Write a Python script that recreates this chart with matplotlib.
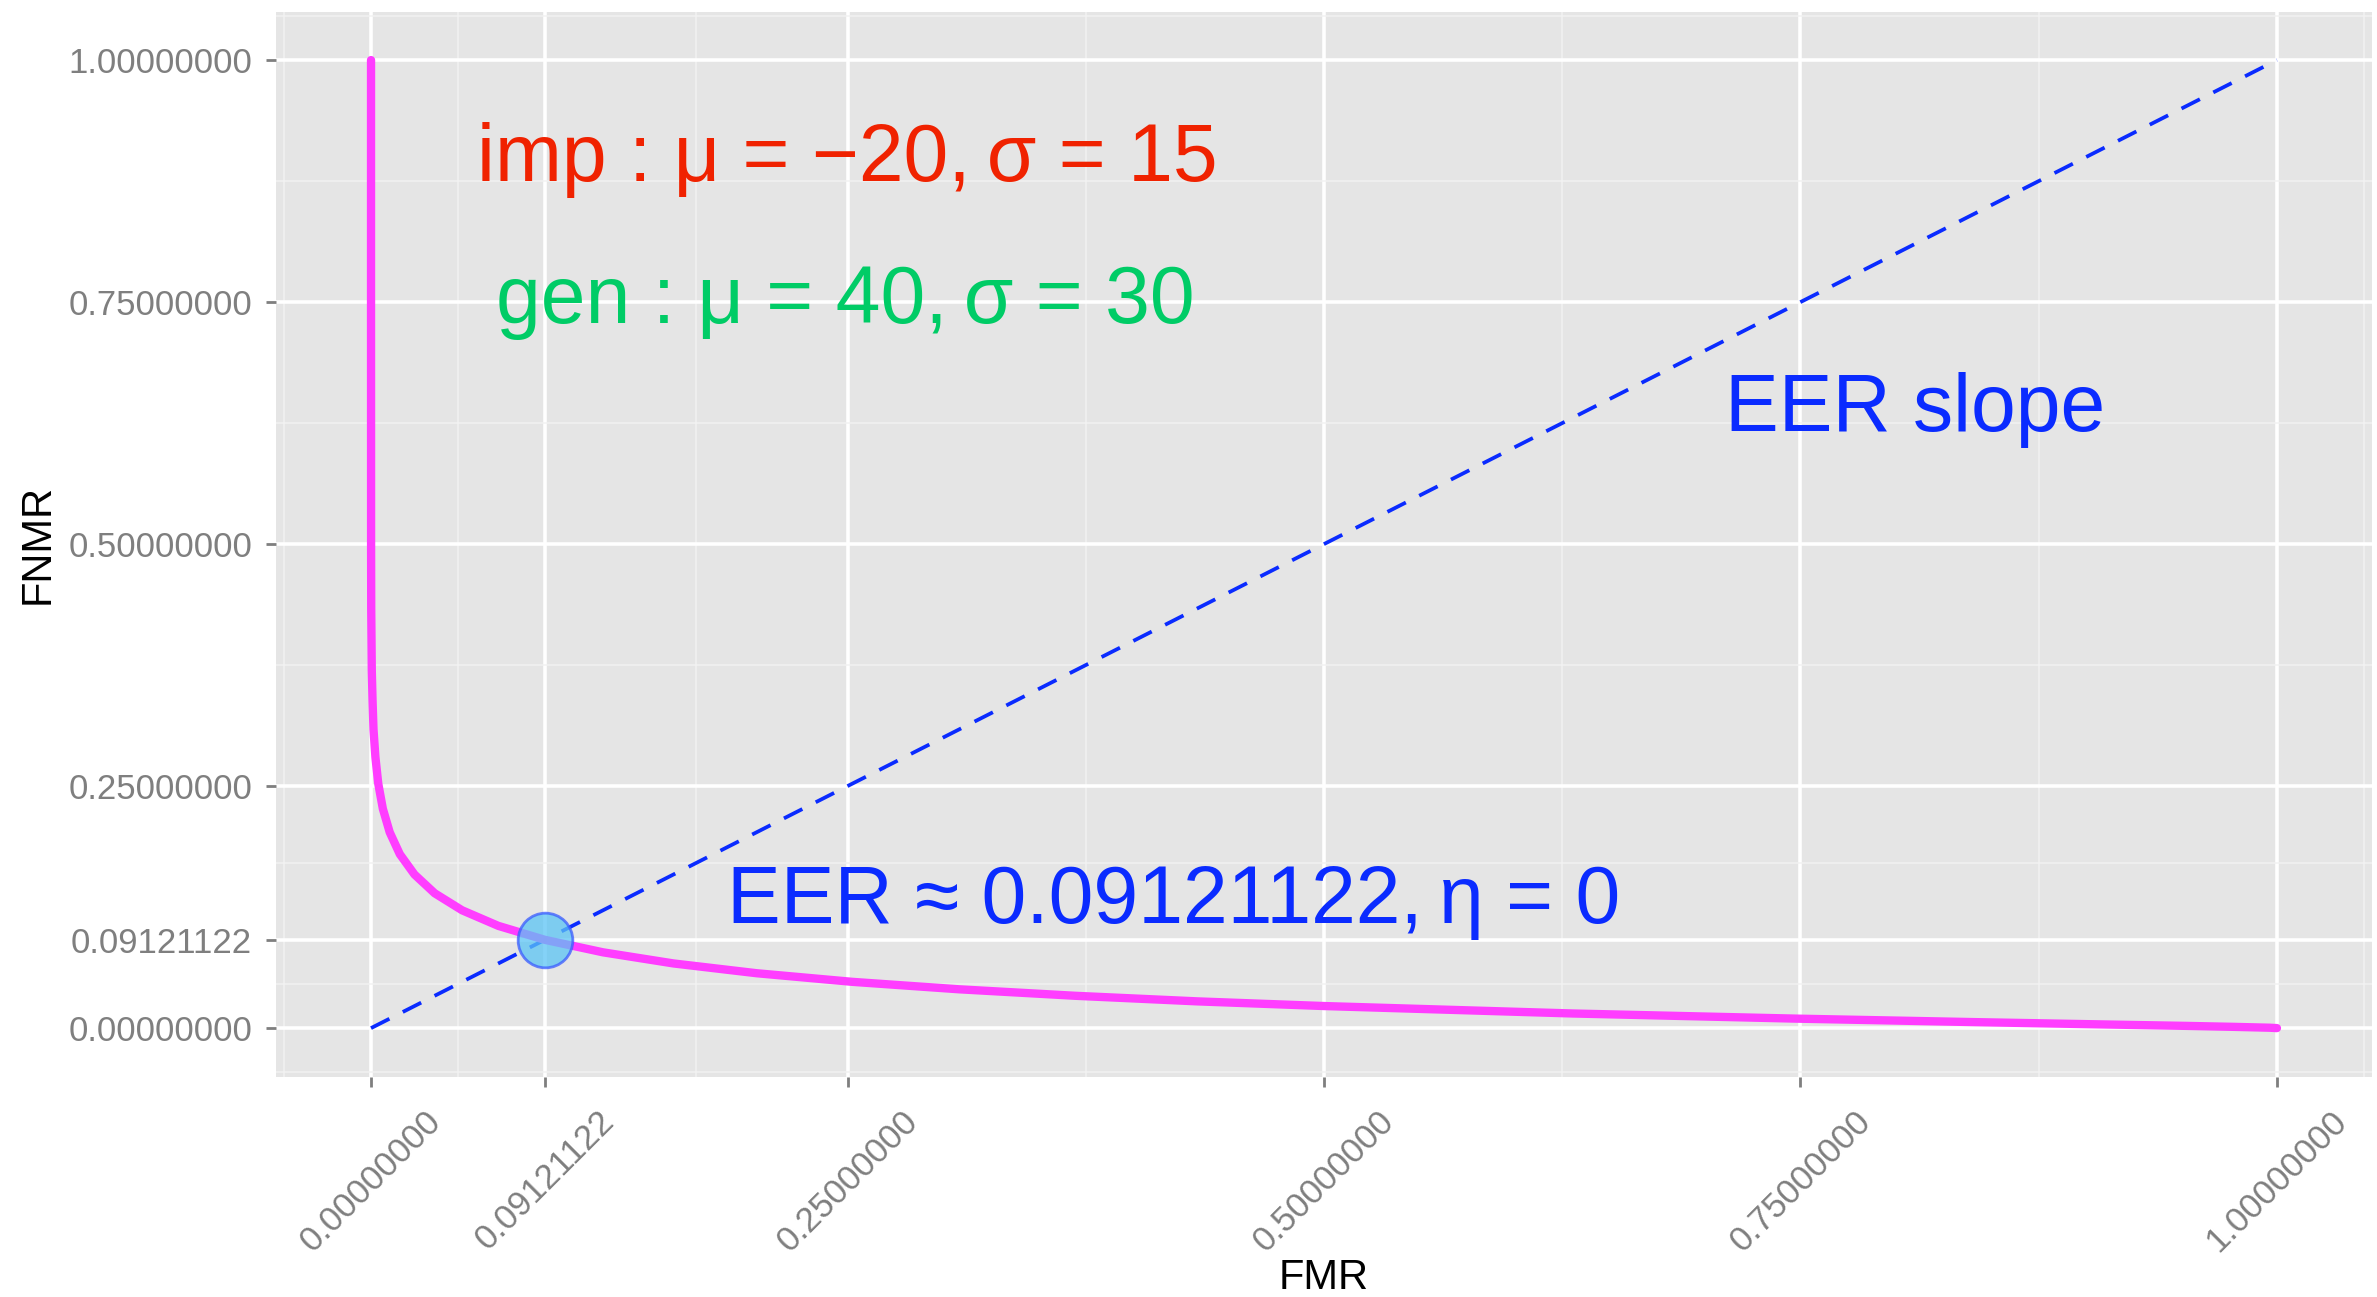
import matplotlib
matplotlib.use('Agg')
import matplotlib.pyplot as plt

# DET curve (FMR on x, FNMR on y)
fmr = [0.0, 0.0, 0.0, 0.0, 0.0, 0.00003, 0.0001, 0.0004, 0.0008, 0.0013, 0.0023,
       0.0038, 0.0062, 0.0098, 0.0151, 0.0228, 0.0334, 0.0478, 0.0668, 0.0912,
       0.1217, 0.1587, 0.2023, 0.2525, 0.3085, 0.3694, 0.4338, 0.5, 0.6306,
       0.7475, 0.8413, 0.9088, 0.9522, 0.9772, 0.9962, 1.0]
fnmr = [1.0, 0.9962, 0.9772, 0.9088, 0.7475, 0.5, 0.4338, 0.3694, 0.3385, 0.3085, 0.2799,
        0.2525, 0.2266, 0.2023, 0.1797, 0.1587, 0.1393, 0.1217, 0.1056, 0.0912,
        0.0783, 0.0668, 0.0567, 0.0478, 0.0401, 0.0334, 0.0276, 0.0228, 0.0151,
        0.0098, 0.0062, 0.0038, 0.0023, 0.0013, 0.0004, 0.0]

eer = 0.09121122
slope_x = [0, 1]
slope_y = [0, 1]

breaks = [0, 0.09121122, 0.25, 0.5, 0.75, 1]
break_labels = ['%.8f' % b for b in breaks]

imp_label = 'imp : μ = −20,\u2009σ = 15'
gen_label = 'gen : μ = 40,\u2009σ = 30'
slope_label = 'EER slope'
eer_label = 'EER ≈ 0.09121122,\u2009η = 0'

plt.rcParams['font.family'] = ['Liberation Sans', 'DejaVu Sans']

fig = plt.figure(figsize=(23.77, 12.97), dpi=100)
ax = fig.add_axes([0.116, 0.170, 0.882, 0.821])
ax.set_facecolor('#E5E5E5')
for s in ax.spines.values():
    s.set_visible(False)

# ggplot style minor grid: halfway between breaks, one step added each side
step = breaks[1] - breaks[0]
ext = [breaks[0] - step] + breaks + [breaks[-1] + step]
minor = [(ext[i] + ext[i + 1]) / 2 for i in range(len(ext) - 1)]
ax.set_xticks(breaks)
ax.set_yticks(breaks)
ax.set_xticks(minor, minor=True)
ax.set_yticks(minor, minor=True)
ax.grid(which='minor', color='#F2F2F2', linewidth=1.1)
ax.grid(which='major', color='white', linewidth=2.6)
ax.set_axisbelow(True)
ax.tick_params(which='minor', length=0)
ax.tick_params(which='major', length=7, width=2, color='#7F7F7F',
               labelcolor='#7F7F7F', labelsize=25, pad=10)
ax.set_yticklabels(break_labels)
ax.set_xticklabels(break_labels, rotation=45, ha='center', va='top')
ax.tick_params(axis='x', pad=13)

ax.set_xlim(-0.05, 1.05)
ax.set_ylim(-0.05, 1.05)

ax.plot(slope_x, slope_y, color='#0A2BFF', lw=2.7, dashes=(5.5, 4), zorder=2)
ax.plot(fmr, fnmr, color='#FF3DFF', lw=6, solid_capstyle='round', zorder=3)
ax.scatter([eer], [eer], s=1550, color='#5BC4F5', alpha=0.75,
           edgecolors='#3A5BFF', linewidths=2, zorder=4)

ax.text(0.25, 0.875, imp_label, color='#F02200', fontsize=58, ha='center', va='baseline')
ax.text(0.249, 0.728, gen_label, color='#00CC66', fontsize=58, ha='center', va='baseline')
ax.text(0.81, 0.617, slope_label, color='#0A2BFF', fontsize=58, ha='center', va='baseline')
ax.text(0.421, 0.109, eer_label, color='#0A2BFF', fontsize=58, ha='center', va='baseline')

ax.set_xlabel('FMR', fontsize=30)
ax.set_ylabel('FNMR', fontsize=30)
ax.xaxis.set_label_coords(0.5, -0.189)
ax.xaxis.label.set_va('center')
ax.yaxis.set_label_coords(-0.1135, 0.5)
ax.yaxis.label.set_va('center')

fig.savefig('out.png', dpi=100)
